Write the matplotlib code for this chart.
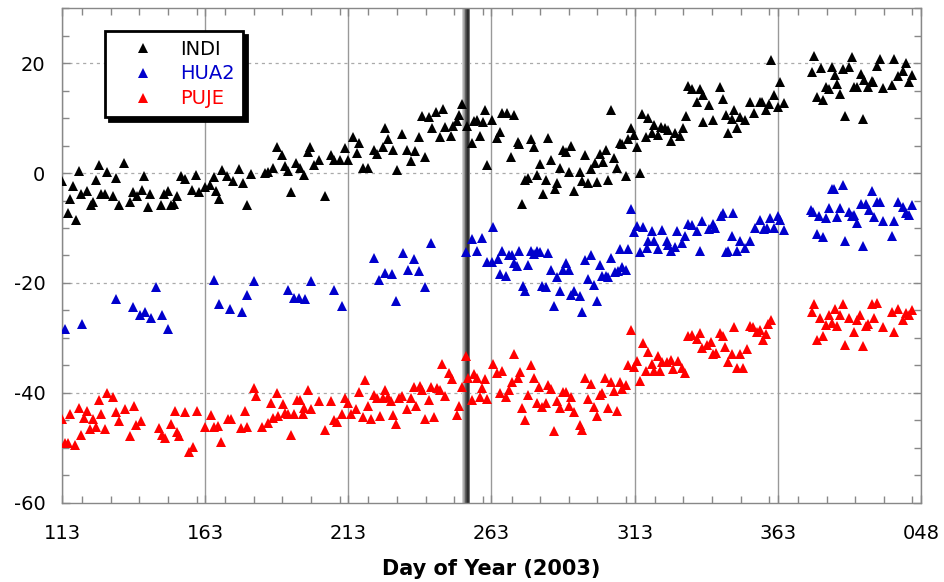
import numpy as np
import matplotlib
matplotlib.use("Agg")
import matplotlib.pyplot as plt
from matplotlib.ticker import MultipleLocator, FixedLocator

plt.rcParams["axes.unicode_minus"] = False

# day of year (days after 365 belong to 2004) and offsets
indi_day = [113, 115, 115.7, 116.8, 117.8, 118.8, 119.8, 121.7, 123, 124, 125, 125.9, 126.7, 127.9,
            128.8, 130.8, 131.9, 132.8, 134.7, 136.6, 137.8, 139.3, 140.9, 141.6, 143, 143.9, 147.7,
            148.6, 150, 150.9, 152.1, 153.3, 154.7, 155.8, 158.5, 159.9, 160.8, 162.8, 164.8, 166,
            166.9, 167.7, 168.9, 170.7, 172.7, 174.7, 176.2, 177.7, 178.9, 183.8, 185,
            186.8, 188, 189.7, 190.9, 192.1, 193, 194.7, 196.1, 197.6, 199, 199.6, 201, 202.9, 205,
            206.8, 208, 210.1, 211.8, 213, 214.8, 215.9, 216.9, 218.2, 220, 222, 222.9, 225, 225.8,
            227, 228.7, 229.9, 231.6, 233.6, 234.9, 236.3, 237.7, 238.6, 239.8, 241, 242.1, 243.5,
            245, 246, 246.8, 248.9, 249.7, 250.8, 251.8, 252.8, 254.3, 256.1, 256.9, 257.8, 259,
            259.9, 260.7, 261.3,
            263.1, 264.8, 266, 266.6, 268.3, 269.8, 271, 272.2, 272.7, 273.8, 274.7, 275.6, 276.8,
            278, 278.8, 280, 280.9, 282, 282.9, 283.8, 285.2, 285.8, 287, 288.1, 289, 290.1, 290.8,
            291.8, 293.9, 294.7, 295.7, 296.8, 297.8, 299, 299.7, 300.9, 302.1, 302.9, 303.8, 304.8,
            305.9, 307, 307.9, 308.7, 310, 310.8, 311.6, 312.9, 313.7, 314.9, 315.7, 317, 317.8, 319,
            319.9, 321.3, 322.2, 323.6, 324.5, 325.7, 327.1, 328.9, 330, 331, 331.5, 332.9, 334.7,
            335.8, 336.7, 337,
            338.8, 340.5, 342.8, 343.8, 344.9, 345.7, 346.9, 347.8, 348.9, 349.8, 351.6, 353.3, 354.8,
            356.6, 357.4, 358.9, 360, 360.6, 361.7, 362.9, 363.8, 365, 374.8, 375.8, 376.6, 378,
            378.7, 379.9, 380.7, 381.8, 382.8, 383.8, 384.7, 385.7, 386.6, 387.7, 388.8, 389.6, 390.8,
            391.9, 392.6, 393.2, 394.6, 395.8, 396.4, 397.8, 398.7, 399.6, 402.8, 403.7, 404.8, 406.6,
            407.8, 408.8, 409.8]
indi_val = [-1.5, -7.2, -4.7, -2.4, -8.5, 0.3, -3.9, -3.3, -5.8, -5.2, -1.2, 1.5, -3.9, -3.8,
            0.1, -4.1, -0.9, -5.8, 1.8, -5.2, -3.5, -4.1, -3.0, -0.5, -6.2, -3.9, -5.9,
            -3.9, -3.2, -5.9, -5.6, -4.2, -0.5, -1.1, -3.0, -0.3, -3.5, -2.6, -2.1, -0.8,
            -3.2, -4.7, 0.6, -0.6, -1.5, 0.7, -1.8, -5.9, -0.1, 0.0, 0.1,
            0.9, 4.8, 3.3, 1.2, 0.3, -3.5, 1.8, 0.9, -0.3, 3.9, 4.7, 1.5, 2.3, -4.2,
            3.2, 2.3, 2.3, 4.5, 2.4, 6.5, 3.6, 5.5, 1.0, 0.9, 4.2, 3.5, 4.7, 8.2,
            6.2, 4.2, 0.6, 7.1, 4.2, 2.2, 4.1, 6.5, 10.3, 3.0, 10.2, 8.2, 11.1,
            6.5, 11.7, 8.4, 6.8, 8.6, 9.4, 10.6, 12.6, 8.6, 5.5, 9.4, 9.7, 6.8,
            9.2, 11.4, 1.4,
            9.7, 6.4, 7.4, 10.9, 10.9, 3.0, 10.6, 5.6, 5.2, -5.6, -1.2, -0.9, 6.2,
            4.7, -0.3, 1.7, -3.9, -1.2, 6.3, 2.3, -2.9, -1.9, 0.9, 4.2, 3.9, 0.1, 5.0,
            -3.3, 0.1, -1.5, 3.2, -1.9, 0.7, 1.9, -1.7, 3.5, 2.1, 4.2, -1.2, 11.5,
            2.7, 0.9, 5.5, 5.3, -0.5, 6.2, 8.2, 7.0, 4.8, 0.0, 10.8, 6.5, 10.0, 7.2,
            8.8, 7.0, 8.4, 8.2, 7.8, 5.9, 7.2, 6.8, 8.2, 10.4, 15.8, 15.3, 13.0,
            15.3, 14.2, 9.2,
            12.4, 9.7, 15.6, 13.5, 10.6, 7.3, 9.8, 11.5, 8.2, 10.2, 9.7, 13.0, 11.0,
            13.0, 13.0, 11.4, 12.6, 20.5, 14.2, 12.0, 16.5, 12.8, 18.3, 21.3, 13.9, 19.1,
            13.2, 15.6, 15.2, 19.3, 17.9, 16.2, 14.4, 18.9, 10.3, 19.3, 21.1, 15.6, 15.6,
            18.0, 9.8, 17.0, 15.6, 16.8, 16.5, 19.4, 20.7, 15.5, 16.1, 20.7, 17.6, 18.5,
            20.1, 16.5, 17.9]

hua2_day = [113.9, 120, 131.7, 137.9, 140.1, 141.9, 144, 145.7, 147.9, 150, 166, 167.7, 171.8,
            175.9, 177.7, 180.1,
            192, 194, 195.9, 197.9, 199.9, 208, 210.8, 222, 223.8, 225.8, 228.1, 229.7, 232,
            233.8, 236, 237.8, 239.9, 241.9, 254, 256.1, 257.8, 259.8, 261.5,
            263.7, 263.1, 265.2, 266, 266.8, 268, 269.1, 270.1, 271, 271.8, 272.7, 273.9, 274.7,
            275.9, 276.8, 278, 278.8, 280, 280.8, 282, 282.9, 283.8, 285, 285.8, 287, 287.9, 289,
            290.1, 290.8, 291.9, 293.9, 294.7, 295.7, 296.8, 297.8, 298.9, 299.8, 300.9, 301.7,
            302.9, 303.8, 304.8, 306.2, 307.3, 307.9, 308.7, 309.9, 310.8, 311.7, 312.8, 313.7,
            314.9, 316, 317.2, 317.8, 319, 319.9, 321.1, 322.4, 324.2, 324.8, 325.7, 327.1, 327.7,
            329.4, 330.6, 331.8, 332.9, 334.7, 335.8, 336.6,
            338.8, 341.1, 340.5, 343.1, 343.8, 344.9, 345.7, 346.9, 347.5, 348.9, 349.8, 351.6,
            353.3, 355.1, 356.6, 358, 359.1, 360.1, 361.7, 362.9, 363.8, 365,
            374.5, 375.4, 376.6, 377.5, 378.7, 379.9, 380.7, 381.8, 382.6, 383.6, 384.7, 385.7,
            386.6, 387.7, 388.8, 389.6, 390.8, 391.9, 392.6, 393.7, 394.8, 395.8, 396.6, 397.8,
            398.7, 399.6, 402.8, 403.7, 404.9, 406.6, 407.8, 408.8, 409.8]
hua2_val = [-28.4, -27.4, -23.0, -24.4, -25.8, -25.3, -26.4, -20.7, -25.8, -28.4, -19.4, -23.9, -24.7,
            -25.2, -22.1, -19.7,
            -21.3, -22.7, -22.7, -23.0, -19.7, -21.2, -24.1, -15.5, -19.5, -18.2, -18.3, -23.3, -14.5,
            -17.6, -15.6, -17.9, -20.7, -12.8, -14.3, -12.0, -14.1, -11.8, -16.2,
            -9.8, -16.1, -15.6, -18.4, -14.1, -18.8, -15.0, -15.0, -16.4, -17.0, -14.2, -20.6, -21.5,
            -16.7, -14.2, -14.8, -14.2, -14.4, -20.6, -20.7, -14.5, -17.6, -24.2, -18.9, -21.5, -17.6, -16.4,
            -17.6, -22.1, -21.5, -22.3, -25.3, -15.9, -19.3, -15.0, -20.3, -23.2, -16.8, -18.7,
            -18.8, -18.9, -15.5, -18.0, -17.9, -13.8, -17.1, -17.7, -13.8, -6.5, -10.8, -9.6,
            -14.4, -9.8, -13.6, -12.4, -10.6, -12.4, -13.8, -10.4, -12.4, -13.0, -14.2, -13.5, -10.6,
            -12.7, -11.5, -9.2, -9.4, -10.6, -14.2, -8.8,
            -10.2, -10.0, -9.2, -7.9, -7.2, -14.4, -14.1, -11.4, -7.3, -14.2, -12.4, -13.6,
            -12.4, -10.0, -8.6, -10.2, -10.0, -8.2, -10.0, -7.9, -8.6, -10.3,
            -6.8, -7.0, -11.0, -7.8, -11.6, -8.2, -6.4, -2.9, -2.9, -8.0, -6.4, -2.1,
            -12.3, -7.0, -7.9, -7.6, -9.0, -5.6, -13.2, -5.6, -6.8, -3.2, -8.0, -5.3,
            -5.2, -8.8, -11.4, -8.8, -5.2, -6.2, -7.2, -7.6, -5.9]

puje_day = [113, 113.9, 115.7, 115.1, 117.4, 118.8, 119.8, 120.7, 121.8, 122.7, 123.8, 125, 125.9,
            126.7, 127.9, 128.8, 130.8, 131.7, 132.8, 134.9, 136.8, 138, 139, 140.5, 146.8, 147.9,
            149, 151.1, 152.3, 153.1, 153.9, 156, 157.2, 158.9, 160.1, 163, 164.9, 166.2, 167.6,
            168.7, 171, 171.9, 175.6, 176.8, 177.7, 180.1, 180.9, 182.7, 185, 186, 186.7,
            188, 188.6, 190.1, 190.9, 192.1, 193, 194, 195, 196.1, 197, 197.6, 198.8, 199.9, 202.9,
            204.9, 207, 208, 209, 210.7, 211.8, 213, 213.8, 215.7, 216.8, 218, 218.8, 220, 220.8,
            222, 222.9, 224.1, 225.2, 225.8, 227, 227.8, 228.7, 229.7, 230.8, 231.6, 233.6, 234.8,
            236, 236.6, 238, 238.8, 239.9, 241, 241.9, 243, 243.9, 245, 245.8, 246.8, 248, 249.1,
            250.8, 251.8, 252.8, 254, 254.9, 256.1, 256.9, 257.8, 259, 259.8, 260.7, 261.5,
            263.7, 264.8, 266, 266.8, 268, 269.1, 270.1, 271, 272.2, 273, 273.8, 274.7, 275.9,
            276.8, 278, 278.8, 279.7, 280.8, 282, 282.9, 283.8, 285, 285.8, 286.9, 288.1, 289,
            289.9, 290.8, 291.9, 293.9, 294.7, 295.7, 296.8, 297.8, 298.9, 299.8, 300.9, 301.7,
            302.7, 303.8, 304.8, 305.9, 307, 307.9, 308.7, 309.9, 310.8, 311.7, 312.9, 313.7,
            314.9, 315.8, 317, 317.6, 319, 319.9, 321.1, 321.9, 322.7, 324.2, 325.7, 326.5, 328,
            329.4, 330.6, 331.8, 332.9, 334.7, 335.8, 336.6,
            338.2, 339.6, 340.5, 341.4, 342.8, 343.8, 344.6, 345.7, 346.9, 347.7, 348.9, 349.8,
            350.8, 352.4, 353.3, 354.5, 355.6, 356.6, 357.7, 358.9, 359.7, 360.6,
            374.8, 375.8, 376.6, 377.8, 378.7, 379.9, 380.7, 381.8, 382.8, 383.6, 384.7, 385.7,
            386.6, 387.7, 389.7, 390.8, 391.7, 392.6, 393.7, 394.6, 395.8, 396.6, 397.8, 399.6,
            402.8, 403.7, 404.8, 406.6, 407.8, 408.8, 409.8]
puje_val = [-44.7, -49.1, -43.8, -49.1, -49.4, -42.7, -47.6, -44.5, -43.3, -46.5, -44.7, -46.2, -41.2,
            -43.8, -46.5, -40.1, -40.7, -43.5, -45.2, -43.0, -47.9, -42.4, -45.8, -45.2, -46.4, -47.6,
            -48.2, -45.6, -43.3, -47.2, -47.9, -43.5, -50.8, -49.8, -43.2, -46.2, -44.1, -46.2, -46.1,
            -49.0, -44.7, -44.8, -46.4, -43.3, -46.2, -39.1, -40.6, -46.2, -45.5, -41.8, -44.5,
            -40.1, -44.2, -42.1, -43.6, -43.8, -47.6, -43.8, -41.3, -41.2, -43.9, -42.7, -39.4, -43.0, -41.5,
            -46.7, -41.5, -45.0, -45.3, -43.9, -40.9, -41.9, -43.8, -43.0, -39.9, -44.4, -37.6, -42.3, -44.8,
            -40.3, -40.9, -44.2, -40.9, -39.5, -40.8, -41.5, -44.1, -45.6, -40.9, -40.6, -42.9, -40.9,
            -38.9, -42.4, -38.8, -39.4, -44.7, -41.2, -38.9, -44.4, -39.1, -39.4, -34.7, -40.5, -36.4, -37.5,
            -44.1, -42.4, -38.9, -33.3, -37.3, -41.3, -36.5, -37.3, -40.7, -39.1, -37.5, -41.1,
            -34.8, -36.4, -40.1, -36.1, -40.7, -39.5, -38.1, -33.0, -37.3, -36.2, -42.7, -45.0, -40.3,
            -35.0, -37.3, -41.8, -38.9, -42.5, -41.8, -38.5, -39.3, -47.0, -41.5, -42.7, -39.9, -39.9,
            -42.4, -40.7, -43.5, -45.8, -46.7, -37.3, -41.1, -38.3, -42.5, -44.2, -40.3, -40.0,
            -37.3, -42.7, -38.1, -39.7, -43.3, -38.1, -39.3, -38.5, -35.0, -28.6, -35.2, -34.2,
            -37.9, -31.0, -36.1, -32.6, -34.8, -36.1, -33.3, -36.1, -34.4, -34.4, -34.1, -35.6, -34.2,
            -35.5, -36.4, -29.6, -29.4, -30.2, -29.1, -31.8,
            -31.2, -30.8, -33.0, -32.8, -29.1, -29.6, -31.6, -34.4, -33.0, -28.0, -35.5, -33.0,
            -35.5, -32.1, -27.8, -28.0, -29.0, -28.6, -30.4, -29.2, -27.4, -26.8,
            -25.3, -23.9, -30.4, -26.4, -29.6, -27.6, -25.9, -27.3, -24.8, -27.8, -25.8, -23.9,
            -31.2, -26.4, -29.0, -26.7, -25.8, -31.5, -27.8, -27.4, -23.9, -26.4, -23.6, -28.0,
            -25.2, -29.0, -24.7, -26.8, -25.5, -25.8, -25.0]

series = [("INDI", indi_day, indi_val, "black"),
          ("HUA2", hua2_day, hua2_val, "#0000cc"),
          ("PUJE", puje_day, puje_val, "#ff0000")]

xtick_pos = [113, 163, 213, 263, 313, 363, 413]
xtick_lab = ["113", "163", "213", "263", "313", "363", "048"]
event_day = 254.2  # shaded vertical band

fig = plt.figure(figsize=(9.45, 5.82), dpi=100)
ax = fig.add_axes([0.0656, 0.136, 0.909, 0.850])

ax.set_xlim(113, 413)
ax.set_ylim(-60, 30)

# grey shaded band with a dark core
prof = np.array([0.82, 0.75, 0.68, 0.58, 0.48, 0.38, 0.28, 0.2, 0.18, 0.2, 0.3, 0.45])
ax.imshow(prof[np.newaxis, :], cmap="gray", vmin=0, vmax=1, aspect="auto",
          extent=[event_day - 1.35, event_day + 1.35, -60, 30], zorder=1,
          interpolation="nearest")

for name, d, v, c in series:
    ax.plot(d, v, linestyle="none", marker="^", markersize=7.5, color=c,
            markeredgewidth=0, label=name, zorder=3)

ax.xaxis.set_major_locator(FixedLocator(xtick_pos))
ax.set_xticklabels(xtick_lab)
ax.xaxis.set_minor_locator(MultipleLocator(10))
ax.yaxis.set_major_locator(MultipleLocator(20))
ax.yaxis.set_minor_locator(MultipleLocator(5))

ax.tick_params(which="both", direction="in", top=True, right=True, colors="#888888",
               labelcolor="black", labelsize=14)
ax.tick_params(which="major", length=6, width=1)
ax.tick_params(which="minor", length=5, width=1)
ax.tick_params(axis="x", pad=15)
ax.tick_params(axis="y", pad=12)

ax.grid(axis="x", which="major", color="#999999", linewidth=1, linestyle="-", zorder=0)
for yv in [-40, -20, 0, 20]:
    ax.axhline(yv, color="#aaaaaa", linewidth=0.9, linestyle=(0, (2.5, 3)), zorder=0)
ax.set_axisbelow(True)

for s in ax.spines.values():
    s.set_color("#888888")
    s.set_linewidth(1)

ax.set_xlabel("Day of Year (2003)", fontsize=15, fontweight="bold", labelpad=12)

leg = ax.legend(loc="upper left", bbox_to_anchor=(0.05, 0.954), borderaxespad=0,
                frameon=True, fancybox=False, edgecolor="black", fontsize=14,
                handlelength=3, handletextpad=0.4, labelspacing=0.3, borderpad=0.45,
                markerscale=0.9,
                shadow={"color": "black", "alpha": 1, "ox": 3, "oy": -3})
leg.get_frame().set_linewidth(2)
for txt, (_, _, _, c) in zip(leg.get_texts(), series):
    txt.set_color(c)

fig.savefig("out.png", dpi=100)
